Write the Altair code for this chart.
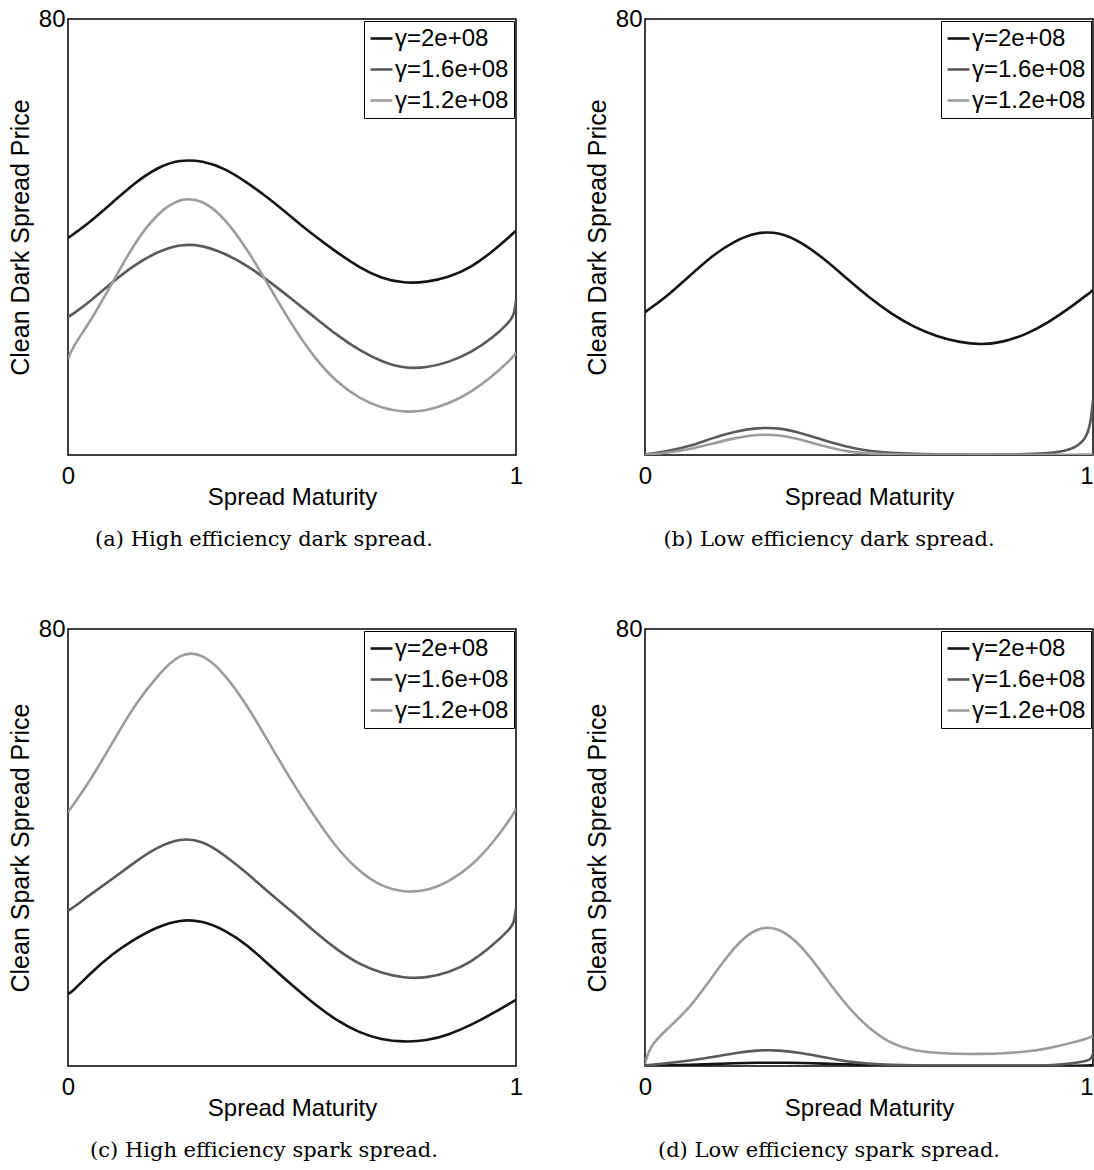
import altair as alt
import pandas as pd

# Spread maturity grid shared by every curve
T = [0, 0.01, 0.05, 0.10, 0.15, 0.20, 0.25, 0.30, 0.35, 0.40, 0.45, 0.50,
     0.55, 0.60, 0.65, 0.70, 0.75, 0.80, 0.85, 0.90, 0.95, 0.985, 0.995, 1.0]

LABELS = ["γ=2e+08", "γ=1.6e+08", "γ=1.2e+08"]
COLORS = ["#141414", "#5a5a5a", "#9c9c9c"]

# (a) high efficiency dark spread
dark_hi_g200 = [39.8, 40.4, 42.8, 46.4, 50.0, 52.8, 54.2, 54.0, 52.6, 50.0, 47.0, 43.6,
                40.2, 37.2, 34.4, 32.4, 31.5, 31.7, 32.6, 34.4, 37.5, 40.0, 40.8, 41.2]
dark_hi_g160 = [25.3, 25.8, 28.2, 31.8, 35.0, 37.3, 38.7, 38.5, 37.0, 34.8, 31.8, 28.6,
                25.3, 22.0, 19.2, 17.1, 15.9, 16.0, 17.0, 18.8, 21.6, 24.4, 25.5, 28.3]
dark_hi_g120 = [17.6, 19.8, 24.5, 31.7, 39.2, 44.4, 47.2, 46.9, 43.5, 37.8, 30.8, 23.8,
                17.8, 13.3, 10.4, 8.6, 7.8, 8.1, 9.4, 11.5, 14.6, 17.3, 18.2, 18.8]

# (b) low efficiency dark spread
dark_lo_g200 = [26.2, 26.8, 29.2, 32.9, 36.6, 39.3, 40.9, 40.9, 39.0, 36.0, 32.4, 28.9,
                25.9, 23.5, 21.8, 20.7, 20.2, 20.7, 22.1, 24.3, 27.1, 29.3, 29.9, 30.3]
dark_lo_g160 = [0.1, 0.2, 0.7, 1.6, 3.1, 4.3, 5.0, 5.0, 4.0, 2.7, 1.5, 0.7,
                0.4, 0.2, 0.15, 0.1, 0.1, 0.1, 0.15, 0.3, 0.8, 2.8, 6.0, 10.0]
dark_lo_g120 = [0.05, 0.1, 0.4, 1.0, 2.1, 3.1, 3.8, 3.7, 2.8, 1.6, 0.6, 0.25,
                0.1, 0.05, 0.05, 0.05, 0.05, 0.05, 0.05, 0.05, 0.05, 0.1, 0.1, 0.1]

# (c) high efficiency spark spread
spark_hi_g200 = [13.2, 13.6, 17.0, 20.6, 23.3, 25.5, 26.8, 26.6, 24.9, 22.2, 18.4, 14.8,
                 11.3, 8.3, 6.1, 4.8, 4.4, 4.6, 5.7, 7.5, 9.7, 11.4, 11.9, 12.1]
spark_hi_g160 = [28.4, 28.9, 31.4, 34.3, 37.4, 40.1, 41.7, 41.3, 38.6, 35.3, 31.6, 28.3,
                 24.6, 21.3, 18.6, 17.0, 16.1, 16.1, 17.1, 19.0, 22.2, 25.0, 26.0, 28.9]
spark_hi_g120 = [46.5, 47.6, 52.3, 59.3, 66.3, 71.5, 75.7, 75.6, 71.8, 66.0, 59.0, 52.0,
                 45.7, 39.8, 35.6, 32.8, 31.8, 32.0, 33.7, 36.5, 41.0, 45.0, 46.3, 47.1]

# (d) low efficiency spark spread
spark_lo_g200 = [0.0, 0.05, 0.1, 0.2, 0.35, 0.5, 0.6, 0.6, 0.55, 0.45, 0.3, 0.2,
                 0.1, 0.05, 0.05, 0.05, 0.05, 0.05, 0.05, 0.05, 0.05, 0.1, 0.15, 0.2]
spark_lo_g160 = [0.1, 0.15, 0.5, 1.0, 1.6, 2.4, 2.9, 2.9, 2.4, 1.6, 0.8, 0.4,
                 0.2, 0.1, 0.1, 0.1, 0.1, 0.1, 0.1, 0.1, 0.4, 0.9, 1.2, 2.2]
spark_lo_g120 = [0.4, 3.6, 6.8, 10.6, 16.3, 22.0, 25.5, 25.4, 22.0, 16.5, 11.0, 6.8,
                 4.0, 2.8, 2.4, 2.2, 2.2, 2.3, 2.6, 3.2, 4.2, 5.0, 5.3, 5.5]

SANS = "Liberation Sans"
SERIF = "DejaVu Serif"


def panel(series, ytitle, caption, dx, height, right_col):
    rows = []
    for k, (lab, vals) in enumerate(zip(LABELS, series)):
        for t, v in zip(T, vals):
            rows.append({"t": t, "price": v, "gamma": lab, "k": k})
    df = pd.DataFrame(rows)
    # the "1" on the right-hand panels is kept inside the page edge
    x_align = ({"condition": {"test": "datum.value == 1", "value": "right"}, "value": "center"}
               if right_col else "center")
    return (
        alt.Chart(df)
        .mark_line(strokeWidth=2.6, interpolate="basis", clip=True)
        .encode(
            x=alt.X("t:Q",
                    scale=alt.Scale(domain=[0, 1], nice=False, zero=False),
                    axis=alt.Axis(values=[0, 1], format="d", title="Spread Maturity",
                                  labelFlush=False, labelAlign=x_align,
                                  labelPadding=9, titlePadding=-3)),
            y=alt.Y("price:Q",
                    scale=alt.Scale(domain=[0, 80], nice=False),
                    axis=alt.Axis(values=[80], title=ytitle, titleFontSize=25,
                                  labelPadding=3, titlePadding=5)),
            color=alt.Color("gamma:N",
                            scale=alt.Scale(domain=LABELS, range=COLORS),
                            legend=alt.Legend(title=None, orient="top-right", offset=2,
                                              strokeColor="black", fillColor="white",
                                              padding=5, rowPadding=6, labelOffset=1,
                                              symbolType="stroke", symbolSize=480,
                                              symbolStrokeWidth=2.6,
                                              labelFont=SANS, labelFontSize=24,
                                              labelColor="black")),
            order=alt.Order("k:Q"),
        )
        .properties(
            width=448, height=height,
            title=alt.TitleParams(caption, orient="bottom", anchor="middle", frame="group",
                                  dx=dx, offset=20, font=SERIF, fontSize=21,
                                  fontWeight="normal", color="black"),
        )
    )


a = panel([dark_hi_g200, dark_hi_g160, dark_hi_g120], "Clean Dark Spread Price",
          "(a) High efficiency dark spread.", -28, 436, False)
b = panel([dark_lo_g200, dark_lo_g160, dark_lo_g120], "Clean Dark Spread Price",
          "(b) Low efficiency dark spread.", -40, 436, True)
c = panel([spark_hi_g200, spark_hi_g160, spark_hi_g120], "Clean Spark Spread Price",
          "(c) High efficiency spark spread.", -28, 437, False)
d = panel([spark_lo_g200, spark_lo_g160, spark_lo_g120], "Clean Spark Spread Price",
          "(d) Low efficiency spark spread.", -40, 437, True)

chart = (
    alt.concat(a, b, c, d, columns=2, spacing={"row": 174, "column": 129}, bounds="flush")
    .resolve_scale(color="independent")
    .resolve_legend(color="independent")
    .properties(padding={"left": 7, "top": 6, "right": 0, "bottom": 0}, background="white")
    .configure_view(stroke="black", strokeWidth=1.5)
    .configure_axis(domain=False, ticks=False, grid=False,
                    labelFont=SANS, labelFontSize=24, labelColor="black",
                    titleFont=SANS, titleFontSize=24, titleFontWeight="normal",
                    titleColor="black")
)

chart.save("out.html", embed_options={"renderer": "svg", "actions": False})
